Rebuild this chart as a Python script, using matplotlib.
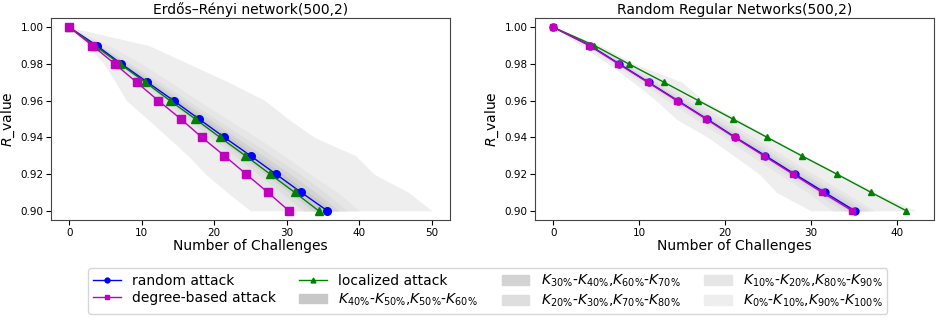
import matplotlib
matplotlib.use("Agg")
import matplotlib.pyplot as plt
from matplotlib.patches import Patch
from matplotlib.lines import Line2D

# R levels shared by both panels
r_levels = [1.00, 0.99, 0.98, 0.97, 0.96, 0.95, 0.94, 0.93, 0.92, 0.91, 0.90]

# ---- Erdos-Renyi panel ----
er_random = [0, 3.8, 7.2, 10.8, 14.4, 17.9, 21.4, 25.0, 28.5, 32.0, 35.6]
er_degree = [0, 3.2, 6.3, 9.3, 12.3, 15.4, 18.3, 21.4, 24.4, 27.4, 30.3]
er_local = [0, 3.5, 7.0, 10.5, 13.9, 17.4, 20.8, 24.3, 27.7, 31.1, 34.4]
er_p0 = [0, 2.5, 4.8, 6.4, 7.9, 10.8, 13.6, 16.4, 18.8, 21.8, 25.0]
er_p10 = [0, 3.0, 6.1, 9.0, 12.2, 15.1, 18.0, 21.2, 24.1, 27.0, 30.2]
er_p20 = [0, 3.3, 6.6, 9.8, 13.1, 16.3, 19.5, 22.8, 26.0, 29.2, 32.3]
er_p30 = [0, 3.4, 6.8, 10.2, 13.6, 17.0, 20.3, 23.7, 27.0, 30.3, 33.6]
er_p40 = [0, 3.6, 7.1, 10.6, 14.1, 17.6, 21.0, 24.5, 28.0, 31.4, 34.8]
er_p60 = [0, 3.9, 7.6, 11.3, 15.0, 18.6, 22.2, 25.9, 29.5, 33.0, 36.4]
er_p70 = [0, 4.1, 8.0, 11.8, 15.6, 19.3, 23.0, 26.8, 30.5, 34.0, 37.2]
er_p80 = [0, 4.4, 8.5, 12.5, 16.4, 20.2, 24.1, 28.0, 31.8, 35.3, 38.3]
er_p90 = [0, 5.5, 10.0, 14.0, 17.8, 21.8, 25.8, 29.6, 33.2, 37.0, 40.0]
er_p100 = [0, 11.0, 16.5, 22.0, 27.0, 30.2, 33.8, 39.5, 42.0, 46.8, 50.0]

# ---- Random regular panel ----
rr_random = [0, 4.3, 7.7, 11.1, 14.5, 17.9, 21.2, 24.7, 28.1, 31.6, 35.1]
rr_degree = [0, 4.2, 7.6, 11.0, 14.4, 17.8, 21.1, 24.5, 27.9, 31.3, 34.8]
rr_local = [0, 4.8, 8.8, 12.9, 16.9, 20.9, 24.9, 28.9, 33.0, 37.0, 41.1]
rr_p0 = [0, 3.2, 6.4, 9.3, 12.0, 14.3, 18.0, 21.0, 24.0, 26.0, 30.0]
rr_p10 = [0, 3.8, 7.0, 10.2, 13.3, 16.5, 19.8, 23.0, 26.3, 29.6, 32.5]
rr_p20 = [0, 4.0, 7.3, 10.6, 13.9, 17.2, 20.5, 23.8, 27.1, 30.5, 33.7]
rr_p30 = [0, 4.1, 7.5, 10.8, 14.2, 17.5, 20.9, 24.3, 27.6, 31.0, 34.3]
rr_p40 = [0, 4.2, 7.6, 11.0, 14.4, 17.8, 21.1, 24.5, 27.9, 31.3, 34.8]
rr_p60 = [0, 4.4, 7.9, 11.3, 14.7, 18.1, 21.5, 24.9, 28.4, 31.9, 35.4]
rr_p70 = [0, 4.5, 8.1, 11.6, 15.0, 18.5, 21.9, 25.4, 28.9, 32.4, 36.0]
rr_p80 = [0, 4.7, 8.4, 12.0, 15.5, 19.0, 22.5, 26.0, 29.5, 33.1, 36.7]
rr_p90 = [0, 5.0, 8.9, 12.7, 16.3, 19.8, 23.3, 26.8, 30.3, 33.9, 37.4]
rr_p100 = [0, 5.5, 9.5, 15.0, 17.5, 21.5, 25.2, 29.3, 33.4, 37.5, 42.2]

# outer band first, inner band last
band_colors = ["#eeeeee", "#e6e6e6", "#dedede", "#d3d3d3", "#c8c8c8"]
band_labels = [
    r"$K_{0\%}$-$K_{10\%}$,$K_{90\%}$-$K_{100\%}$",
    r"$K_{10\%}$-$K_{20\%}$,$K_{80\%}$-$K_{90\%}$",
    r"$K_{20\%}$-$K_{30\%}$,$K_{70\%}$-$K_{80\%}$",
    r"$K_{30\%}$-$K_{40\%}$,$K_{60\%}$-$K_{70\%}$",
    r"$K_{40\%}$-$K_{50\%}$,$K_{50\%}$-$K_{60\%}$",
]

fig = plt.figure(figsize=(9.39, 3.2), dpi=100)
ax1 = fig.add_axes([51 / 939, 1 - 220 / 320, 399 / 939, 202 / 320])
ax2 = fig.add_axes([535 / 939, 1 - 220 / 320, 399 / 939, 202 / 320])


def draw_panel(ax, lows, highs, rnd, deg, loc, title, ms, ms_tri):
    for lo, hi, c in zip(lows, highs, band_colors):
        ax.fill_betweenx(r_levels, lo, hi, color=c, linewidth=0)
    ax.plot(rnd, r_levels, "b-o", lw=1, ms=ms)
    ax.plot(loc, r_levels, "g-^", lw=1, ms=ms_tri)
    ax.plot(deg, r_levels, "m-s", lw=1, ms=ms)
    ax.set_title(title, fontsize=10, pad=3)
    ax.set_xlabel("Number of Challenges", fontsize=10, labelpad=1)
    ax.set_ylabel(r"$R$_value", fontsize=10)
    ax.yaxis.set_label_coords(-0.085, 0.5)
    ax.set_yticks([0.90, 0.92, 0.94, 0.96, 0.98, 1.00])
    ax.tick_params(labelsize=7.5, pad=2)
    for s in ax.spines.values():
        s.set_color("#444444")


draw_panel(ax1,
           [er_p0, er_p10, er_p20, er_p30, er_p40],
           [er_p100, er_p90, er_p80, er_p70, er_p60],
           er_random, er_degree, er_local,
           "Erdős–Rényi network(500,2)", 5.5, 5.5)
ax1.set_xticks([0, 10, 20, 30, 40, 50])

draw_panel(ax2,
           [rr_p0, rr_p10, rr_p20, rr_p30, rr_p40],
           [rr_p100, rr_p90, rr_p80, rr_p70, rr_p60],
           rr_random, rr_degree, rr_local,
           "Random Regular Networks(500,2)", 5, 4.5)
ax2.set_xticks([0, 10, 20, 30, 40])

handles = [
    Line2D([], [], color="b", marker="o", lw=1, ms=3.5, label="random attack"),
    Line2D([], [], color="m", marker="s", lw=1, ms=3.5, label="degree-based attack"),
    Line2D([], [], color="g", marker="^", lw=1, ms=3.5, label="localized attack"),
]
# inner band first in the legend
for c, lab in zip(band_colors[::-1], band_labels[::-1]):
    handles.append(Patch(color=c, label=lab))

fig.legend(handles=handles, loc="lower left", bbox_to_anchor=(88 / 939, 6 / 320),
           borderaxespad=0, ncol=4, fontsize=10, frameon=True, handlelength=2.0,
           columnspacing=1.7, borderpad=0.35, labelspacing=0.25)

fig.savefig("out.png", dpi=100)
